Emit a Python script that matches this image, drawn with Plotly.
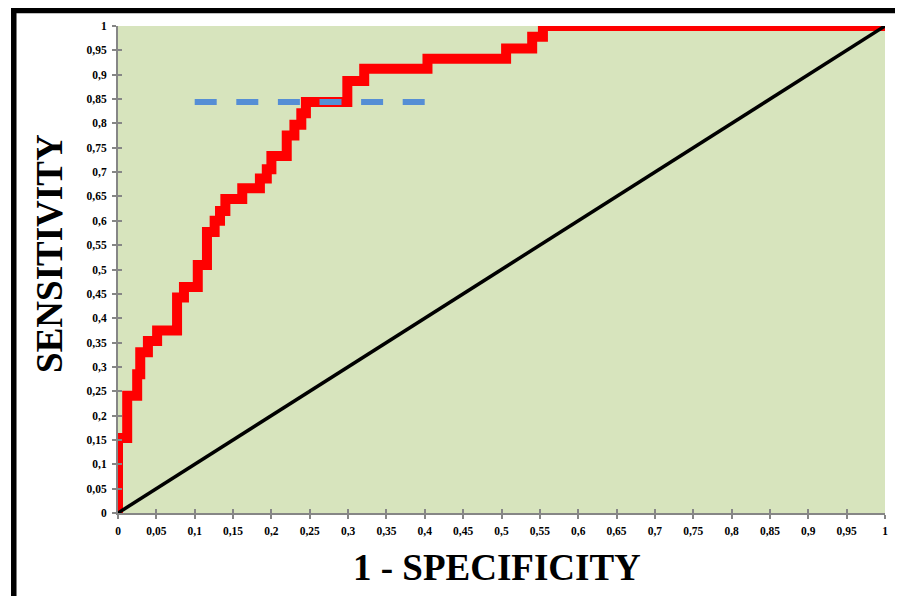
import plotly.graph_objects as go

# ROC step curve (corner points, drawn with 'vh' steps)
fpr = [0, 0.012, 0.025, 0.029, 0.039, 0.051, 0.077, 0.086, 0.104, 0.116,
       0.126, 0.133, 0.140, 0.162, 0.185, 0.194, 0.200, 0.220, 0.230, 0.239,
       0.245, 0.299, 0.321, 0.4035, 0.506, 0.540, 0.554, 1.0]
tpr = [0, 0.154, 0.241, 0.285, 0.330, 0.353, 0.375, 0.4425, 0.464, 0.509,
       0.577, 0.600, 0.620, 0.645, 0.667, 0.687, 0.706, 0.733, 0.775, 0.797,
       0.821, 0.844, 0.887, 0.912, 0.933, 0.954, 0.978, 1.0]

# reference (chance) diagonal
diag_x = [0, 1]
diag_y = [0, 1]

# dashed cut-off marker line
cut_x = [0.10, 0.40]
cut_y = [0.844, 0.844]

tick_vals = [0, 0.05, 0.1, 0.15, 0.2, 0.25, 0.3, 0.35, 0.4, 0.45, 0.5,
             0.55, 0.6, 0.65, 0.7, 0.75, 0.8, 0.85, 0.9, 0.95, 1]
tick_text = ["0", "0,05", "0,1", "0,15", "0,2", "0,25", "0,3", "0,35", "0,4", "0,45", "0,5",
             "0,55", "0,6", "0,65", "0,7", "0,75", "0,8", "0,85", "0,9", "0,95", "1"]

x_title = "1 - SPECIFICITY"
y_title = "SENSITIVITY"

SERIF = "Liberation Serif, Times New Roman, serif"
AXIS_GREY = "#868686"

fig = go.Figure()
fig.add_trace(go.Scatter(x=fpr, y=tpr, mode="lines", line=dict(color="#FF0000", width=10, shape="vh"),
                         hoverinfo="skip", showlegend=False))
fig.add_trace(go.Scatter(x=cut_x, y=cut_y, mode="lines",
                         line=dict(color="#558ED5", width=6, dash="22px,19.6px"),
                         hoverinfo="skip", showlegend=False))
fig.add_trace(go.Scatter(x=diag_x, y=diag_y, mode="lines", line=dict(color="#000000", width=3.5),
                         xaxis="x2", yaxis="y2", hoverinfo="skip", showlegend=False))

axis_common = dict(range=[0, 1], tickvals=tick_vals, ticktext=tick_text, showgrid=False,
                   zeroline=False, showline=True, linecolor=AXIS_GREY, linewidth=2,
                   ticks="outside", ticklen=4, tickwidth=2, tickcolor=AXIS_GREY,
                   tickfont=dict(family=SERIF, size=11.5, color="#000000", weight="bold"),
                   fixedrange=True)
inner_common = dict(range=[0, 1], tickvals=tick_vals, showgrid=False, zeroline=False,
                    showline=False, ticks="inside", ticklen=4, tickwidth=2, tickcolor=AXIS_GREY,
                    showticklabels=False, fixedrange=True)

# page body has an 8px margin, so the figure is sized/offset to compensate
fig.update_layout(
    width=895, height=588,
    margin=dict(l=110, r=18, t=18, b=83),
    paper_bgcolor="#FFFFFF",
    plot_bgcolor="#D7E4BD",
    xaxis=dict(**axis_common, ticklabelstandoff=2),
    yaxis=dict(**axis_common, ticklabelstandoff=3),
    xaxis2=dict(**inner_common, overlaying="x", anchor="y2"),
    yaxis2=dict(**inner_common, overlaying="y", anchor="x2"),
    showlegend=False,
    annotations=[
        dict(text=y_title, xref="paper", yref="paper", x=-0.0887, y=0.534, textangle=-90,
             showarrow=False, xanchor="center", yanchor="middle",
             font=dict(family=SERIF, size=37, color="#000000", weight="bold")),
        dict(text=x_title, xref="paper", yref="paper", x=0.4935, y=-0.112,
             showarrow=False, xanchor="center", yanchor="middle",
             font=dict(family=SERIF, size=37, color="#000000", weight="bold")),
    ],
    shapes=[
        dict(type="rect", xref="paper", yref="paper", x0=-0.1359, x1=1.0241, y0=-0.1786, y1=1.0318,
             line=dict(color="#000000", width=5.5), fillcolor="rgba(0,0,0,0)", layer="above"),
    ],
)

fig.write_html("out.html")
